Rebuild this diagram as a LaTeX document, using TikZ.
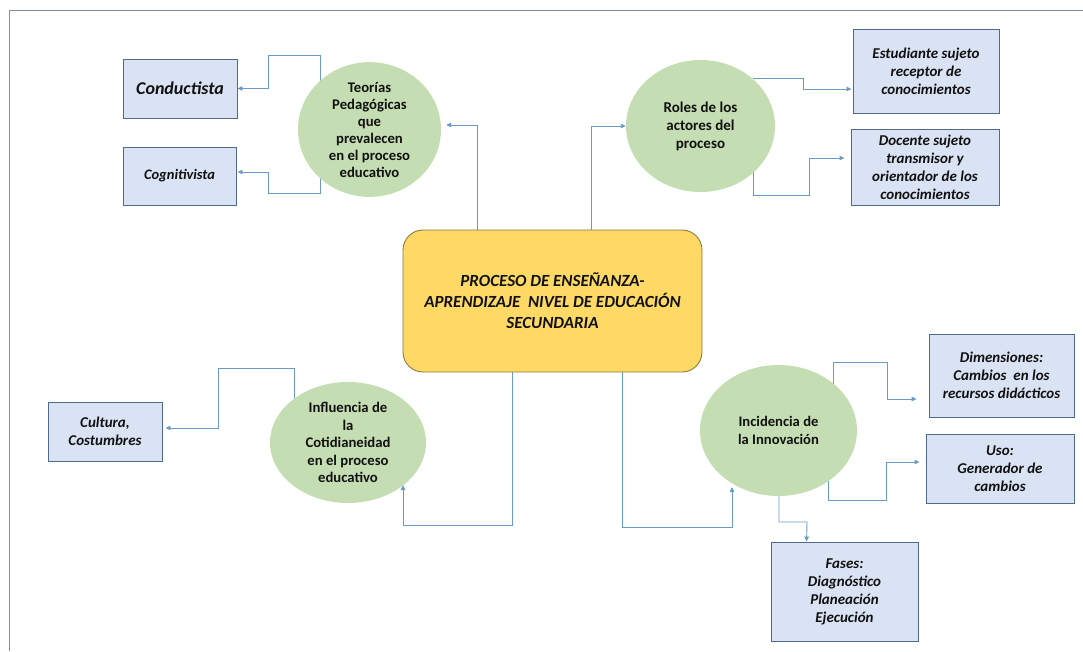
\documentclass[tikz,border=0pt]{standalone}
\usepackage{fontspec}
\setmainfont{Carlito}
\usetikzlibrary{shapes.geometric,arrows.meta,calc,backgrounds}
\definecolor{boxfill}{HTML}{DAE3F3}
\definecolor{boxborder}{HTML}{4F6A8C}
\definecolor{ellfill}{HTML}{C5DDB3}
\definecolor{connc}{HTML}{6A9BC8}
\definecolor{cenfill}{HTML}{FFD966}
\definecolor{cenborder}{HTML}{8C7A3C}
\definecolor{framec}{HTML}{7F8FA0}
\definecolor{txt}{HTML}{111111}
\tikzset{
  infobox/.style={draw=boxborder, fill=boxfill, line width=0.9pt, align=center, inner sep=0pt, text=txt},
  ell/.style={ellipse, fill=ellfill, draw=none, align=center, inner sep=0pt, text=txt},
  conn/.style={draw=connc, line width=0.9pt},
  arr/.style={conn, -{Triangle[length=5pt,width=4.5pt]}},
  mainbox/.style={draw=cenborder, fill=cenfill, line width=0.9pt, rounded corners=20pt, align=center, inner sep=0pt, text=txt}
}
\begin{document}
\begin{tikzpicture}[x=1pt,y=-1pt]
\useasboundingbox (0,0) rectangle (1083,651);
\draw[framec, line width=1pt] (1083,10) -- (9.5,10) -- (9.5,651);

% boxes
\node[infobox, minimum width=114pt, minimum height=59pt, font=\fontsize{18}{21}\selectfont\bfseries\itshape] (cond) at (180,88.5) {Conductista};
\node[infobox, minimum width=113pt, minimum height=58pt, font=\fontsize{14.5}{17}\selectfont\bfseries\itshape] (cogn) at (179.5,176) {Cognitivista};
\node[infobox, minimum width=146pt, minimum height=84pt, font=\fontsize{15}{18}\selectfont\bfseries\itshape] (est) at (926,71) {Estudiante sujeto\\receptor de\\conocimientos};
\node[infobox, minimum width=148pt, minimum height=76pt, font=\fontsize{15}{18}\selectfont\bfseries\itshape] (doc) at (925,167) {Docente sujeto\\transmisor y\\orientador de los\\conocimientos};
\node[infobox, minimum width=114pt, minimum height=59pt, font=\fontsize{15}{18}\selectfont\bfseries\itshape] (cult) at (105,431.5) {Cultura,\\Costumbres};
\node[infobox, minimum width=145pt, minimum height=83pt, font=\fontsize{15}{18}\selectfont\bfseries\itshape] (dim) at (1001.5,375.5) {Dimensiones:\\Cambios\ \ en los\\recursos didácticos};
\node[infobox, minimum width=148pt, minimum height=69pt, font=\fontsize{15}{18}\selectfont\bfseries\itshape] (uso) at (1000,468.5) {Uso:\\Generador\ de\\cambios};
\node[infobox, minimum width=147pt, minimum height=99pt, font=\fontsize{15}{18}\selectfont\bfseries\itshape] (fases) at (844.5,591.5) {Fases:\\Diagnóstico\\Planeación\\Ejecución};

% central box
\node[mainbox, minimum width=299pt, minimum height=142pt, font=\fontsize{17}{21}\selectfont\bfseries\itshape] (cen) at (552.5,301) {PROCESO DE ENSEÑANZA-\\APRENDIZAJE\ \ NIVEL DE EDUCACIÓN\\SECUNDARIA};

% ellipses
\node[ell, minimum width=143pt, minimum height=115pt, font=\fontsize{14.7}{17}\selectfont\bfseries] (teo) at (369.5,129.5) {Teorías\\Pedagógicas\\que\\prevalecen\\en el proceso\\educativo};
\node[ell, minimum width=149pt, minimum height=132pt, font=\fontsize{15}{18}\selectfont\bfseries] (roles) at (700.5,126) {Roles de los\\actores del\\proceso};
\node[ell, minimum width=156pt, minimum height=121pt, font=\fontsize{14.7}{17.5}\selectfont\bfseries] (infl) at (348,442.5) {Influencia de\\la\\Cotidianeidad\\en el proceso\\educativo};
\node[ell, minimum width=157pt, minimum height=131pt, font=\fontsize{14.6}{17.5}\selectfont\bfseries] (inc) at (778.5,430.5) {Incidencia de\\la Innovación};

% connectors
\begin{scope}[on background layer]
\draw[arr] ($(teo.center)+(-49.5,0)$) |- (268,55) |- (cond.east);
\draw[arr] ($(teo.center)+(-49.5,0)$) |- (268,193) |- ($(cogn.east)+(1,-4)$);
\draw[arr] ($(cen.north west)+(75,0)$) |- ($(teo.east)+(5,-4.5)$);
\draw[arr] ($(cen.north west)+(189,0)$) |- (roles.west);
\draw[arr] ($(roles.center)+(52.5,-48)$) -| (803,89) -- ($(est.west)+(-1,18)$);
\draw[arr] ($(roles.center)+(52.5,46)$) |- (809,195) |- ($(doc.west)+(-6,-9)$);
\draw[arr] ($(infl.center)+(-54,0)$) |- (218,368) |- ($(cult.east)+(3,-3.5)$);
\draw[arr] ($(cen.south west)+(110,0)$) |- (403,525) -- ($(infl.center)+(55,42.5)$);
\draw[arr] ($(cen.south west)+(220,0)$) |- (732,527) -- ($(inc.center)+(-46.5,56.5)$);
\draw[arr] ($(inc.center)+(54.5,0)$) |- (887,362) |- ($(dim.west)+(-12,23.5)$);
\draw[arr] ($(inc.center)+(49.5,0)$) |- (886,500) |- ($(uso.west)+(-6,-6.5)$);
\draw[arr] ($(inc.center)+(0.5,0)$) |- (807,522) -- ($(fases.north west)+(36,0)$);
\end{scope}
\end{tikzpicture}
\end{document}
